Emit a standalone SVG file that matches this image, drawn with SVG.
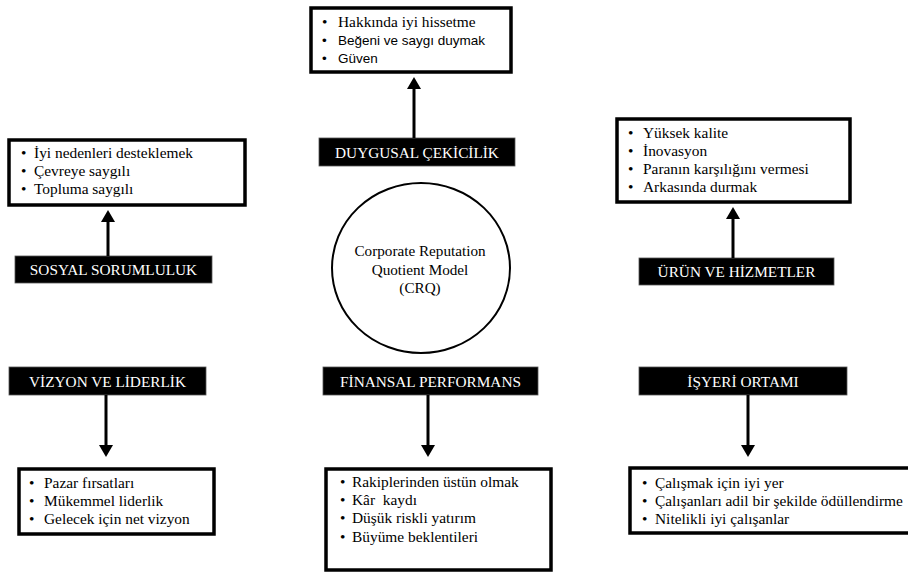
<svg xmlns="http://www.w3.org/2000/svg" width="908" height="576" viewBox="0 0 908 576">
<style>
.box{fill:#fff;stroke:#000;stroke-width:3.5}
.lab{fill:#000;stroke:#555;stroke-width:0.8}
.lt{font-family:"Liberation Serif","Times New Roman",serif;font-size:15.3px;fill:#fff;text-anchor:middle}
.t{font-family:"Liberation Serif","Times New Roman",serif;font-size:15.4px;fill:#000;white-space:pre}
.s{font-family:"Liberation Sans",Arial,sans-serif;font-size:13.5px;fill:#000}
.c{font-family:"Liberation Serif","Times New Roman",serif;font-size:15.2px;fill:#000;text-anchor:middle}
.ar{stroke:#000;stroke-width:3;fill:none}
</style>
<defs>
<marker id="ah" markerUnits="userSpaceOnUse" markerWidth="14" markerHeight="14" refX="2" refY="7" orient="auto">
<path d="M0,0 L12,7 L0,14 z" fill="#000"/>
</marker>
</defs>
<rect width="908" height="576" fill="#fff"/>

<g id="center">
<ellipse cx="421" cy="268" rx="89" ry="85" fill="#fff" stroke="#000" stroke-width="2"/>
<text class="c" x="420" y="256">Corporate Reputation</text>
<text class="c" x="420" y="275">Quotient Model</text>
<text class="c" x="420" y="293">(CRQ)</text>
</g>

<g id="duygusal-box">
<rect class="box" x="311" y="8" width="200" height="64"/>
<text class="t" x="322" y="27">•</text><text class="t" x="338" y="27">Hakkında iyi hissetme</text>
<text class="s" x="322" y="45">•</text><text class="s" x="338" y="45">Beğeni ve saygı duymak</text>
<text class="s" x="322" y="63">•</text><text class="s" x="338" y="63">Güven</text>
</g>
<g id="duygusal-label">
<rect class="lab" x="319" y="138" width="196" height="28"/>
<text class="lt" x="417" y="158">DUYGUSAL ÇEKİCİLİK</text>
</g>

<g id="sosyal-box">
<rect class="box" x="9" y="140" width="236" height="65"/>
<text class="t" x="21" y="158">•</text><text class="t" x="34" y="158">İyi nedenleri desteklemek</text>
<text class="t" x="21" y="176">•</text><text class="t" x="34" y="176">Çevreye saygılı</text>
<text class="t" x="21" y="194">•</text><text class="t" x="34" y="194">Topluma saygılı</text>
</g>
<g id="sosyal-label">
<rect class="lab" x="15" y="256" width="197" height="27"/>
<text class="lt" x="113.5" y="275">SOSYAL SORUMLULUK</text>
</g>

<g id="urun-box">
<rect class="box" x="617" y="119" width="233" height="83"/>
<text class="t" x="628" y="138">•</text><text class="t" x="643" y="138">Yüksek kalite</text>
<text class="t" x="628" y="156">•</text><text class="t" x="643" y="156">İnovasyon</text>
<text class="t" x="628" y="174">•</text><text class="t" x="643" y="174">Paranın karşılığını vermesi</text>
<text class="t" x="628" y="192">•</text><text class="t" x="643" y="192">Arkasında durmak</text>
</g>
<g id="urun-label">
<rect class="lab" x="639" y="258" width="195" height="27"/>
<text class="lt" x="736.5" y="277">ÜRÜN VE HİZMETLER</text>
</g>

<g id="vizyon-label">
<rect class="lab" x="9" y="367" width="197" height="28"/>
<text class="lt" x="107.5" y="387">VİZYON VE LİDERLİK</text>
</g>
<g id="vizyon-box">
<rect class="box" x="19" y="469" width="195" height="65"/>
<text class="t" x="29" y="488">•</text><text class="t" x="44" y="488">Pazar fırsatları</text>
<text class="t" x="29" y="506">•</text><text class="t" x="44" y="506">Mükemmel liderlik</text>
<text class="t" x="29" y="524">•</text><text class="t" x="44" y="524">Gelecek için net vizyon</text>
</g>

<g id="finansal-label">
<rect class="lab" x="323" y="367" width="215" height="28"/>
<text class="lt" x="430.5" y="387">FİNANSAL PERFORMANS</text>
</g>
<g id="finansal-box">
<rect class="box" x="326" y="469" width="225" height="101"/>
<text class="t" x="340" y="487">•</text><text class="t" x="352" y="487">Rakiplerinden üstün olmak</text>
<text class="t" x="340" y="505">•</text><text class="t" x="352" y="505" xml:space="preserve">Kâr  kaydı</text>
<text class="t" x="340" y="523">•</text><text class="t" x="352" y="523">Düşük riskli yatırım</text>
<text class="t" x="340" y="542">•</text><text class="t" x="352" y="542">Büyüme beklentileri</text>
</g>

<g id="isyeri-label">
<rect class="lab" x="639" y="367" width="208" height="28"/>
<text class="lt" x="743" y="387">İŞYERİ ORTAMI</text>
</g>
<g id="isyeri-box">
<rect class="box" x="630" y="468" width="290" height="65"/>
<text class="t" x="642" y="488">•</text><text class="t" x="655" y="488">Çalışmak için iyi yer</text>
<text class="t" x="642" y="506">•</text><text class="t" x="655" y="506">Çalışanları adil bir şekilde ödüllendirme</text>
<text class="t" x="642" y="524">•</text><text class="t" x="655" y="524">Nitelikli iyi çalışanlar</text>
</g>

<g id="connectors">
<line class="ar" x1="414" y1="138" x2="414" y2="87" marker-end="url(#ah)"/>
<line class="ar" x1="108" y1="256" x2="108" y2="220" marker-end="url(#ah)"/>
<line class="ar" x1="733" y1="258" x2="733" y2="217" marker-end="url(#ah)"/>
<line class="ar" x1="106" y1="395" x2="106" y2="447" marker-end="url(#ah)"/>
<line class="ar" x1="428" y1="395" x2="428" y2="447" marker-end="url(#ah)"/>
<line class="ar" x1="748" y1="395" x2="748" y2="447" marker-end="url(#ah)"/>
</g>
</svg>
